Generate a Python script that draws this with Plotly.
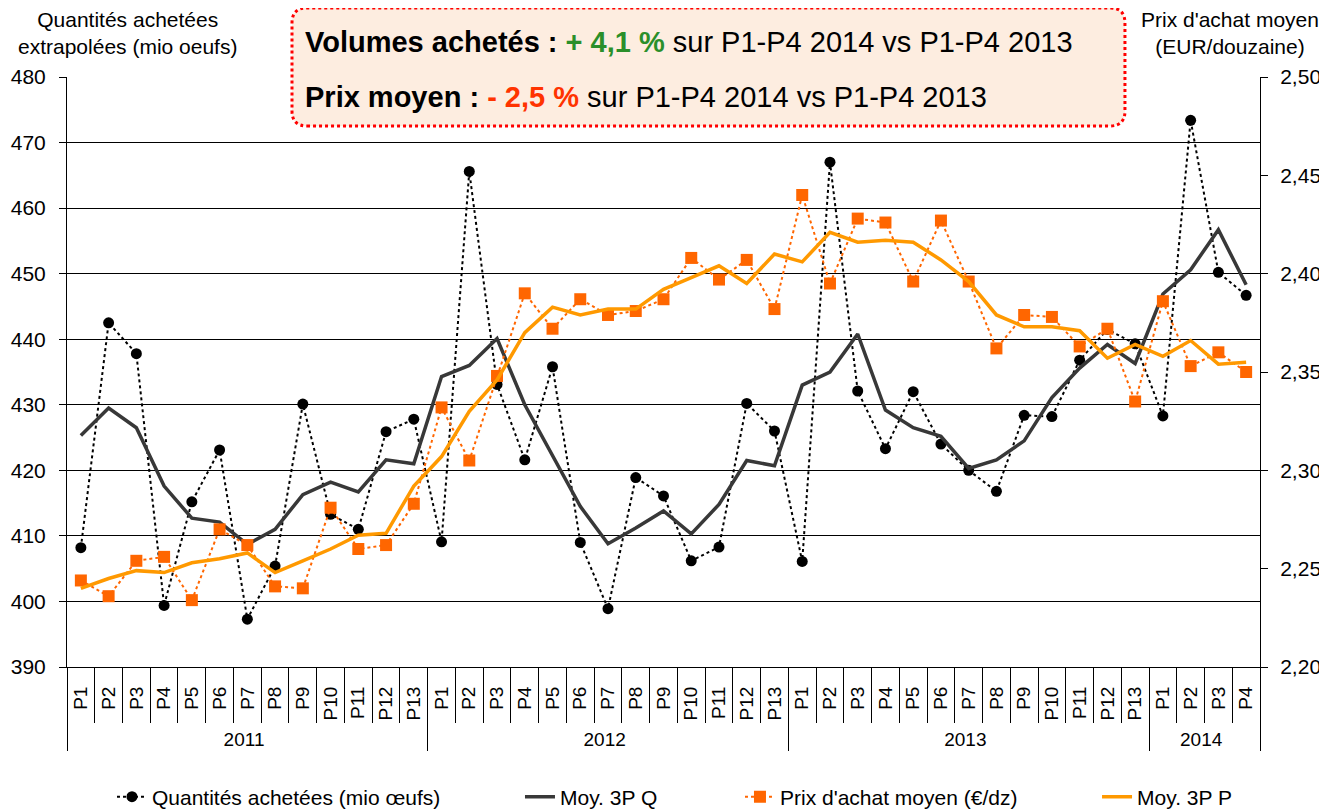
import plotly.graph_objects as go

years = ["2011"] * 13 + ["2012"] * 13 + ["2013"] * 13 + ["2014"] * 4
periods = [f"P{i}" for i in range(1, 14)] * 3 + [f"P{i}" for i in range(1, 5)]

quantites = [408.2, 442.5, 437.8, 399.4, 415.2, 423.1, 397.3, 405.4, 430.1, 413.3, 411.0, 425.9, 427.8,
             409.1, 465.6, 433.1, 421.6, 435.8, 409.0, 398.9, 418.9, 416.1, 406.2, 408.3, 430.2, 426.0,
             406.1, 467.0, 432.1, 423.3, 432.0, 424.0, 420.0, 416.8, 428.4, 428.2, 436.8, 441.5, 439.3,
             428.3, 473.4, 450.2, 446.7]
moy_q = [425.3, 429.5, 426.5, 417.6, 412.7, 412.1, 408.7, 411.0, 416.3, 418.2, 416.7, 421.6, 421.0,
         434.3, 436.0, 440.1, 430.0, 422.2, 414.5, 408.8, 411.2, 413.8, 410.3, 414.8, 421.5, 420.7,
         433.0, 435.0, 440.8, 429.2, 426.5, 425.2, 420.3, 421.6, 424.5, 431.1, 435.6, 439.2, 436.3,
         446.9, 450.6, 456.7, 448.3]
prix = [2.244, 2.236, 2.254, 2.256, 2.234, 2.270, 2.262, 2.241, 2.240, 2.281, 2.260, 2.262, 2.283,
        2.332, 2.305, 2.348, 2.390, 2.372, 2.387, 2.379, 2.381, 2.387, 2.408, 2.397, 2.407, 2.382,
        2.440, 2.395, 2.428, 2.426, 2.396, 2.427, 2.396, 2.362, 2.379, 2.378, 2.363, 2.372, 2.335,
        2.386, 2.353, 2.360, 2.350]
moy_p = [2.240, 2.245, 2.249, 2.248, 2.253, 2.255, 2.258, 2.248, 2.254, 2.260, 2.267, 2.268, 2.292,
         2.307, 2.330, 2.346, 2.370, 2.383, 2.379, 2.382, 2.382, 2.392, 2.398, 2.404, 2.395, 2.410,
         2.406, 2.421, 2.416, 2.417, 2.416, 2.407, 2.396, 2.379, 2.373, 2.373, 2.371, 2.357, 2.364,
         2.358, 2.366, 2.354, 2.355]

FONT = "Liberation Sans, Arial, sans-serif"
x = [years, periods]

fig = go.Figure()
fig.add_trace(go.Scatter(x=x, y=quantites, name="Quantités achetées (mio œufs)", mode="lines+markers",
                         line=dict(color="#000000", width=2, dash="dot"),
                         marker=dict(symbol="circle", size=11, color="#000000"), legend="legend"))
fig.add_trace(go.Scatter(x=x, y=moy_q, name="Moy. 3P Q", mode="lines",
                         line=dict(color="#383838", width=3.5), legend="legend2"))
fig.add_trace(go.Scatter(x=x, y=prix, name="Prix d'achat moyen (€/dz)", mode="lines+markers", yaxis="y2",
                         line=dict(color="#FF6600", width=2, dash="dot"),
                         marker=dict(symbol="square", size=12, color="#FF6600"), legend="legend3"))
fig.add_trace(go.Scatter(x=x, y=moy_p, name="Moy. 3P P", mode="lines", yaxis="y2",
                         line=dict(color="#FF9900", width=3.5), legend="legend4"))

# rounded info box (decoration)
x0, x1, y0, y1 = 0.1886, 0.8868, 0.917, 1.117
rx, ry = 0.0126, 0.0254
path = (f"M {x0+rx} {y0} L {x1-rx} {y0} Q {x1} {y0} {x1} {y0+ry} L {x1} {y1-ry} "
        f"Q {x1} {y1} {x1-rx} {y1} L {x0+rx} {y1} Q {x0} {y1} {x0} {y1-ry} "
        f"L {x0} {y0+ry} Q {x0} {y0} {x0+rx} {y0} Z")
fig.add_shape(type="path", path=path, xref="paper", yref="paper", layer="below",
              fillcolor="#FDEDE0", line=dict(color="#FF0000", width=3, dash="dot"))

fig.add_annotation(xref="paper", yref="paper", x=0.1978, y=1.059, xanchor="left", yanchor="middle",
                   showarrow=False, font=dict(family=FONT, size=29, color="#000000"),
                   text="<b>Volumes achetés : <span style='color:#2A8F2A'>+ 4,1 %</span></b> sur P1-P4 2014 vs P1-P4 2013")
fig.add_annotation(xref="paper", yref="paper", x=0.1978, y=0.966, xanchor="left", yanchor="middle",
                   showarrow=False, font=dict(family=FONT, size=29, color="#000000"),
                   text="<b>Prix moyen : <span style='color:#FF3300'>- 2,5 %</span></b> sur P1-P4 2014 vs P1-P4 2013")
fig.add_annotation(xref="paper", yref="paper", x=0.0511, y=1.0746, xanchor="center", yanchor="middle",
                   showarrow=False, font=dict(family=FONT, size=21, color="#000000"),
                   text="Quantités achetées<br>extrapolées (mio oeufs)")
fig.add_annotation(xref="paper", yref="paper", x=0.975, y=1.0746, xanchor="center", yanchor="middle",
                   showarrow=False, font=dict(family=FONT, size=21, color="#000000"),
                   text="Prix d'achat moyen<br>(EUR/douzaine)")

leg_common = dict(orientation="h", y=-0.2203, yanchor="middle", xanchor="left",
                  font=dict(family=FONT, size=21), bgcolor="rgba(0,0,0,0)", borderwidth=0)

# the page body adds an 8px offset: size/margins chosen so the plot area lands at 67..1260 x 77..667
fig.update_layout(
    width=1319, height=803,
    margin=dict(l=59, r=67, t=69, b=144, autoexpand=False),
    paper_bgcolor="white", plot_bgcolor="white",
    separators=", ",
    font=dict(family=FONT, size=21, color="#000000"),
    showlegend=True,
    legend=dict(x=0.0377, **leg_common),
    legend2=dict(x=0.3797, **leg_common),
    legend3=dict(x=0.5641, **leg_common),
    legend4=dict(x=0.8634, **leg_common),
    xaxis=dict(type="multicategory", range=[-0.5, 42.5], automargin=False,
               showline=True, linecolor="#000000", linewidth=1,
               ticks="outside", tickson="boundaries", ticklen=55, tickcolor="#000000", tickwidth=1,
               tickangle=-90, tickfont=dict(family=FONT, size=19), ticklabelstandoff=11,
               showdividers=True, dividercolor="#000000", dividerwidth=1,
               showgrid=False, zeroline=False),
    yaxis=dict(range=[390, 480], dtick=10, automargin=False, showline=True, linecolor="#000000", linewidth=1,
               ticks="outside", ticklen=7, tickcolor="#000000", showgrid=True, gridcolor="#000000",
               gridwidth=1, zeroline=False, tickfont=dict(family=FONT, size=21), ticklabelstandoff=9),
    yaxis2=dict(range=[2.20, 2.50], dtick=0.05, tickformat=".2f", overlaying="y", side="right",
                automargin=False, showline=True, linecolor="#000000", linewidth=1, ticks="outside", ticklen=7,
                tickcolor="#000000", showgrid=False, zeroline=False, tickfont=dict(family=FONT, size=21),
                ticklabelstandoff=8),
)

fig.write_html("out.html")
